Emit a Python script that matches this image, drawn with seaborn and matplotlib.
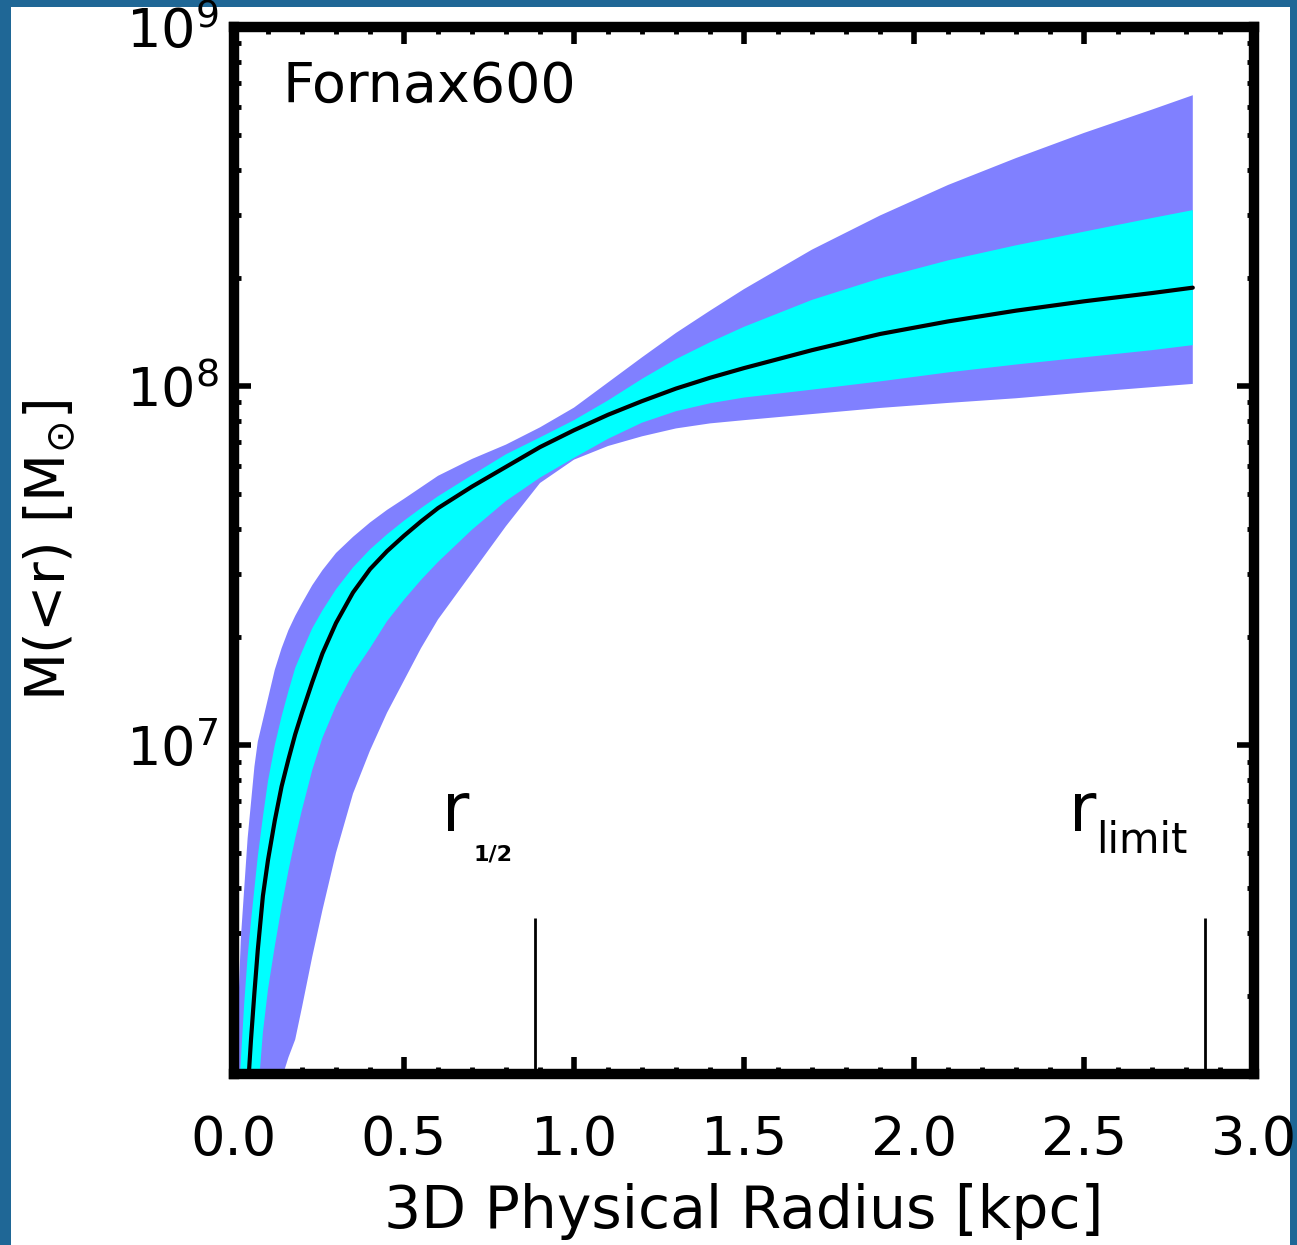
import numpy as np
import pandas as pd
import matplotlib
matplotlib.use("Agg")
import matplotlib.pyplot as plt
import seaborn as sns
from matplotlib.patches import Rectangle
from matplotlib.ticker import LogLocator, MultipleLocator, NullFormatter

# ---- data, radius in kpc, mass as log10(M/Msun) ----
radius_kpc = [0.00, 0.02, 0.03, 0.04, 0.05, 0.06, 0.07, 0.085, 0.10, 0.12, 0.14, 0.16,
              0.18, 0.20, 0.23, 0.26, 0.30, 0.35, 0.40, 0.45, 0.50, 0.55, 0.60, 0.70,
              0.80, 0.90, 1.00, 1.10, 1.20, 1.30, 1.40, 1.50, 1.70, 1.90, 2.10, 2.30,
              2.50, 2.70, 2.82]
log_median = [5.00, 5.60, 5.85, 6.03, 6.18, 6.31, 6.43, 6.58, 6.68, 6.79, 6.885, 6.96,
              7.03, 7.09, 7.175, 7.255, 7.34, 7.425, 7.49, 7.54, 7.583, 7.623, 7.66, 7.72,
              7.775, 7.83, 7.877, 7.92, 7.958, 7.993, 8.023, 8.05, 8.10, 8.145, 8.18, 8.21,
              8.236, 8.259, 8.274]
log_outer_hi = [5.95, 6.46, 6.60, 6.74, 6.84, 6.94, 7.01, 7.07, 7.13, 7.21, 7.27, 7.32,
                7.36, 7.395, 7.445, 7.487, 7.535, 7.58, 7.62, 7.655, 7.686, 7.718, 7.75, 7.797,
                7.837, 7.885, 7.94, 8.01, 8.08, 8.148, 8.21, 8.27, 8.38, 8.475, 8.56, 8.635,
                8.705, 8.77, 8.81]
log_inner_hi = [5.75, 6.12, 6.28, 6.41, 6.51, 6.60, 6.69, 6.80, 6.90, 7.00, 7.08, 7.15,
                7.215, 7.26, 7.325, 7.375, 7.434, 7.495, 7.545, 7.587, 7.625, 7.66, 7.693, 7.752,
                7.81, 7.857, 7.905, 7.96, 8.02, 8.075, 8.122, 8.165, 8.24, 8.30, 8.35, 8.392,
                8.43, 8.468, 8.49]
log_inner_lo = [4.40, 4.90, 5.20, 5.45, 5.70, 5.88, 6.02, 6.20, 6.32, 6.44, 6.55, 6.65,
                6.74, 6.82, 6.93, 7.02, 7.11, 7.20, 7.27, 7.345, 7.405, 7.46, 7.51, 7.60,
                7.68, 7.745, 7.80, 7.853, 7.898, 7.93, 7.952, 7.968, 7.99, 8.013, 8.038, 8.06,
                8.08, 8.10, 8.114]
log_outer_lo = [3.80, 4.30, 4.55, 4.80, 5.00, 5.20, 5.40, 5.60, 5.80, 5.95, 6.07, 6.13,
                6.18, 6.27, 6.41, 6.54, 6.70, 6.865, 6.985, 7.09, 7.18, 7.27, 7.35, 7.48,
                7.61, 7.73, 7.795, 7.833, 7.86, 7.882, 7.896, 7.905, 7.922, 7.939, 7.953, 7.966,
                7.982, 7.997, 8.006]

marker_radius = [0.885, 2.856]
marker_top = 3.3e6
x_ticks = [0.0, 0.5, 1.0, 1.5, 2.0, 2.5, 3.0]
x_ticklabels = ["0.0", "0.5", "1.0", "1.5", "2.0", "2.5", "3.0"]

df = pd.DataFrame({
    "r": radius_kpc,
    "med": np.power(10.0, log_median),
    "o_hi": np.power(10.0, log_outer_hi),
    "i_hi": np.power(10.0, log_inner_hi),
    "i_lo": np.power(10.0, log_inner_lo),
    "o_lo": np.power(10.0, log_outer_lo),
})

sns.set_style("ticks")
plt.rcParams["font.family"] = ["DejaVu Sans"]
plt.rcParams["mathtext.fontset"] = "dejavusans"
for k in ["text.color", "axes.labelcolor", "xtick.color", "ytick.color"]:
    plt.rcParams[k] = "black"

W, H = 1297, 1245
fig = plt.figure(figsize=(W / 100, H / 100), dpi=100, facecolor="#1f6796")
fig.patches.append(Rectangle((11 / W, 0), (1290 - 11) / W, (H - 7) / H,
                             transform=fig.transFigure, facecolor="white",
                             edgecolor="none", zorder=-10))

ax = fig.add_axes([234 / W, 1 - 1074 / H, (1254 - 234) / W, (1074 - 27) / H])
ax.set_facecolor("white")

ax.fill_between(df["r"], df["o_lo"], df["o_hi"], color="#8080ff", lw=0, zorder=1)
ax.fill_between(df["r"], df["i_lo"], df["i_hi"], color="#00ffff", lw=0, zorder=2)
sns.lineplot(data=df, x="r", y="med", color="black", lw=3, ax=ax, zorder=3)

ax.vlines(marker_radius, 1e5, marker_top, color="black", lw=2, zorder=4)

ax.set_yscale("log")
ax.set_xlim(0, 3.0)
ax.set_ylim(10 ** 6.084, 1e9)

ax.set_xticks(x_ticks)
ax.set_xticklabels(x_ticklabels)
ax.xaxis.set_minor_locator(MultipleLocator(0.1))
ax.yaxis.set_major_locator(LogLocator(base=10, numticks=10))
ax.yaxis.set_minor_locator(LogLocator(base=10, subs=np.arange(2, 10), numticks=20))
ax.yaxis.set_minor_formatter(NullFormatter())

for s in ax.spines.values():
    s.set_linewidth(7.5)
    s.set_color("black")

ax.tick_params(axis="both", which="major", direction="in", length=12, width=4,
               top=True, right=True, labelsize=39, colors="black")
ax.tick_params(axis="x", which="major", pad=29)
ax.tick_params(axis="y", which="major", pad=11)
ax.tick_params(axis="both", which="minor", direction="in", length=5, width=3.5,
               top=True, right=True)

ax.set_xlabel("3D Physical Radius [kpc]", fontsize=42, labelpad=12)
ax.set_ylabel(r"M(<r) [M$_{\odot}$]", fontsize=40, labelpad=35)

ax.text(0.048, 0.943, "Fornax600", transform=ax.transAxes, fontsize=40,
        ha="left", va="center")

ax.text(0.612, 10 ** 6.76, "r", fontsize=48, ha="left", va="baseline")
ax.text(0.705, 10 ** 6.68, "1/2", fontsize=16, fontweight="bold", ha="left", va="baseline")
ax.text(2.455, 10 ** 6.76, "r", fontsize=48, ha="left", va="baseline")
ax.text(2.535, 10 ** 6.70, "limit", fontsize=30, ha="left", va="baseline")

fig.savefig("out.png", dpi=100, facecolor=fig.get_facecolor())
